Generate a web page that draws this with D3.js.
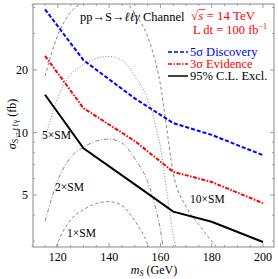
<!DOCTYPE html>
<html>
<head>
<meta charset="utf-8">
<script src="https://cdn.jsdelivr.net/npm/d3@7"></script>
<style>
  body { margin: 0; background: #fff; }
  svg { display: block; font-family: "Liberation Serif", "DejaVu Serif", serif; }
</style>
</head>
<body>
<svg id="chart" width="278" height="279"></svg>
<script>
// signal masses (GeV) of the limit curves
var masses = [115, 130, 150, 165, 180, 200];
// cross section needed (fb)
var discovery = [39.2, 22.3, 14.6, 11.1, 9.74, 7.78];
var evidence  = [23.4, 13.1, 9.1, 6.47, 5.78, 4.57];
var exclusion = [15.2, 8.4, 5.63, 4.16, 3.72, 2.97];

// masses of the SM reference curves
var smMasses = [115, 120, 125, 130, 135, 140, 145, 150, 155, 158, 160, 162, 165, 170, 175, 182, 190, 200];
var sm1  = [1.87, 2.95, 3.8, 4.25, 4.55, 4.65, 4.45, 3.75, 2.9, 2.2, 1.7, 1.15, 0.64, 0.44, 0.36, 0.28, 0.22, 0.18];
var sm2  = [3.74, 5.9, 7.6, 8.5, 9.1, 9.3, 8.9, 7.5, 5.8, 4.4, 3.4, 2.3, 1.28, 0.88, 0.72, 0.56, 0.44, 0.36];
var sm5  = [9.35, 14.75, 19, 21.25, 22.75, 23.25, 22.25, 18.75, 14.5, 11, 8.5, 5.75, 3.2, 2.2, 1.8, 1.4, 1.1, 0.9];
var sm10 = [18.7, 29.5, 38, 42.5, 45.5, 46.5, 44.5, 37.5, 29, 22, 17, 11.5, 6.4, 4.4, 3.6, 2.8, 2.2, 1.8];

var xMajor = [120, 140, 160, 180, 200];
var xMinor = [110, 115, 125, 130, 135, 145, 150, 155, 165, 170, 175, 185, 190, 195];
var yMajor = [5, 10, 20];
var yMinor = [3, 4, 6, 7, 8, 9, 30, 40];

var legendKeys = ["5\u03c3 Discovery", "3\u03c3 Evidence", "95% C.L. Excl."];

var pl = 33, pr = 274, pt = 4, pb = 247;
var svg = d3.select("#chart");

var xs = d3.scaleLinear().domain([110.3, 204.3]).range([pl, pr]);
var ys = d3.scaleLog().domain([2.81, 41.6]).range([pb, pt]);

svg.append("clipPath").attr("id", "clip")
  .append("rect").attr("x", pl).attr("y", pt)
  .attr("width", pr - pl).attr("height", pb - pt);

var plot = svg.append("g").attr("clip-path", "url(#clip)");

// SM reference curves (gray)
var smLine = d3.line()
  .x(function(d, i) { return xs(smMasses[i]); })
  .y(function(d) { return ys(d); })
  .curve(d3.curveMonotoneX);

var smCurves = [
  { v: sm1,  dash: "3,2.5" },
  { v: sm2,  dash: "4,2,1,2" },
  { v: sm5,  dash: "1,1.8" },
  { v: sm10, dash: "3,2.5" }
];
smCurves.forEach(function(c) {
  plot.append("path")
    .attr("d", smLine(c.v))
    .attr("fill", "none")
    .attr("stroke", "#666")
    .attr("stroke-width", 0.8)
    .attr("stroke-dasharray", c.dash);
});

// limit curves
var limLine = d3.line()
  .x(function(d, i) { return xs(masses[i]); })
  .y(function(d) { return ys(d); });

var limits = [
  { v: discovery, color: "#0000ff", dash: "4,2" },
  { v: evidence,  color: "#ff0000", dash: "4,1.5,1.5,1.5" },
  { v: exclusion, color: "#000000", dash: null }
];
limits.forEach(function(c) {
  plot.append("path")
    .attr("d", limLine(c.v))
    .attr("fill", "none")
    .attr("stroke", c.color)
    .attr("stroke-width", 2)
    .attr("stroke-dasharray", c.dash);
});

// frame
svg.append("rect")
  .attr("x", pl).attr("y", pt)
  .attr("width", pr - pl).attr("height", pb - pt)
  .attr("fill", "none").attr("stroke", "#888").attr("stroke-width", 1);

// ticks on all four sides, pointing inward
var ax = svg.append("g").attr("stroke", "#888").attr("stroke-width", 0.8);
function xTick(v, len) {
  ax.append("line").attr("x1", xs(v)).attr("x2", xs(v)).attr("y1", pb).attr("y2", pb - len);
  ax.append("line").attr("x1", xs(v)).attr("x2", xs(v)).attr("y1", pt).attr("y2", pt + len);
}
function yTick(v, len) {
  ax.append("line").attr("y1", ys(v)).attr("y2", ys(v)).attr("x1", pl).attr("x2", pl + len);
  ax.append("line").attr("y1", ys(v)).attr("y2", ys(v)).attr("x1", pr).attr("x2", pr - len);
}
xMajor.forEach(function(v) { xTick(v, 4); });
xMinor.forEach(function(v) { xTick(v, 2); });
yMajor.forEach(function(v) { yTick(v, 4); });
yMinor.forEach(function(v) { yTick(v, 2); });

// tick labels
svg.append("g").selectAll("text").data(xMajor).enter().append("text")
  .attr("x", function(d) { return xs(d); })
  .attr("y", 261)
  .attr("text-anchor", "middle")
  .attr("font-size", "12px")
  .text(function(d) { return d; });

svg.append("g").selectAll("text").data(yMajor).enter().append("text")
  .attr("x", 28)
  .attr("y", function(d) { return ys(d) + 4; })
  .attr("text-anchor", "end")
  .attr("font-size", "12px")
  .text(function(d) { return d; });

// axis titles
var xt = svg.append("text").attr("x", 154).attr("y", 274)
  .attr("text-anchor", "middle").attr("font-size", "12px");
xt.append("tspan").attr("font-style", "italic").text("m");
xt.append("tspan").attr("font-style", "italic").attr("font-size", "8px").attr("dy", 2).text("S");
xt.append("tspan").attr("dy", -2).text(" (GeV)");

var yt = svg.append("text")
  .attr("transform", "translate(16,124) rotate(-90)")
  .attr("text-anchor", "middle").attr("font-size", "12px");
yt.append("tspan").attr("font-style", "italic").text("\u03c3");
yt.append("tspan").attr("font-size", "8px").attr("dy", 2).text("S\u2192\u2113\u2113\u03b3");
yt.append("tspan").attr("dy", -2).text(" (fb)");

// channel title
var ct = svg.append("text").attr("x", 80).attr("y", 21).attr("font-size", "12.5px");
ct.append("tspan").text("pp\u2192S\u2192");
ct.append("tspan").attr("font-style", "italic").text("\u2113\u2113\u03b3");
ct.append("tspan").text(" Channel");

// energy / luminosity
var e1 = svg.append("text").attr("x", 191).attr("y", 20).attr("font-size", "13px").attr("fill", "#ff0000");
e1.append("tspan").text("\u221a");
e1.append("tspan").attr("font-style", "italic").text("s");
e1.append("tspan").text(" = 14 TeV");
svg.append("line").attr("x1", 198.5).attr("x2", 205).attr("y1", 9.5).attr("y2", 9.5)
  .attr("stroke", "#ff0000").attr("stroke-width", 0.7);

var e2 = svg.append("text").attr("x", 193).attr("y", 33.5).attr("font-size", "12.5px").attr("fill", "#ff0000");
e2.append("tspan").text("L dt = 100 fb");
e2.append("tspan").attr("font-size", "8px").attr("dy", -5).text("\u22121");

// legend
var lg = svg.append("g");
limits.forEach(function(c, i) {
  var yy = 52 + i * 12;
  lg.append("line")
    .attr("x1", 168).attr("x2", 188).attr("y1", yy).attr("y2", yy)
    .attr("stroke", c.color).attr("stroke-width", 1.5)
    .attr("stroke-dasharray", c.dash);
  lg.append("text")
    .attr("x", 190).attr("y", yy + 4)
    .attr("font-size", "12.5px")
    .attr("fill", c.color)
    .text(legendKeys[i]);
});

// SM multiplier labels
var smLabels = [
  { t: "5\u00d7SM", x: 42, y: 139 },
  { t: "2\u00d7SM", x: 55, y: 191 },
  { t: "1\u00d7SM", x: 67, y: 237 },
  { t: "10\u00d7SM", x: 190, y: 203 }
];
svg.append("g").selectAll("text").data(smLabels).enter().append("text")
  .attr("x", function(d) { return d.x; })
  .attr("y", function(d) { return d.y; })
  .attr("font-size", "11.5px")
  .text(function(d) { return d.t; });
</script>
</body>
</html>
